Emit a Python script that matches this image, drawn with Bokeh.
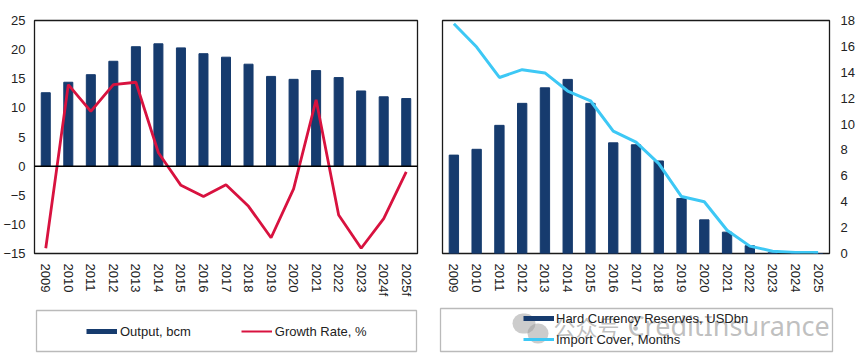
from bokeh.plotting import figure
from bokeh.models import FactorRange, Range1d, Span, Legend, LegendItem, BoxAnnotation, Label, FixedTicker
from bokeh.layouts import row, column
from bokeh.embed import file_html
from bokeh.resources import INLINE

# ---------------- data ----------------
years_left = ["2009", "2010", "2011", "2012", "2013", "2014", "2015", "2016", "2017",
              "2018", "2019", "2020", "2021", "2022", "2023", "2024f", "2025f"]
output_bcm = [12.6, 14.4, 15.7, 18.0, 20.5, 21.0, 20.3, 19.3, 18.7,
              17.5, 15.4, 14.9, 16.4, 15.2, 12.9, 11.9, 11.6]
growth_rate = [-14.1, 14.0, 9.4, 14.0, 14.4, 2.3, -3.3, -5.2, -3.2,
               -6.9, -12.3, -3.9, 11.4, -8.4, -14.1, -9.0, -1.0]

years_right = ["2009", "2010", "2011", "2012", "2013", "2014", "2015", "2016", "2017",
               "2018", "2019", "2020", "2021", "2022", "2023", "2024", "2025"]
reserves = [7.6, 8.05, 9.9, 11.6, 12.8, 13.45, 11.6, 8.55, 8.4,
            7.15, 4.25, 2.6, 1.65, 0.6, 0.05, 0.0, 0.0]
import_cover = [17.75, 15.95, 13.6, 14.2, 13.95, 12.55, 11.8, 9.45, 8.6,
                6.95, 4.4, 4.0, 1.8, 0.57, 0.18, 0.08, 0.08]

left_ticks = [-15, -10, -5, 0, 5, 10, 15, 20, 25]
right_ticks = [0, 2, 4, 6, 8, 10, 12, 14, 16, 18]

NAVY = "#163B6E"
RED = "#D8123F"
CYAN = "#3DC8F5"
FONT = "Liberation Sans"
TXT = "#222222"
EDGE = "#1a1a1a"


def style(p, ticks):
    p.grid.visible = False
    p.outline_line_color = EDGE
    p.outline_line_width = 1.3
    for ax in p.axis:
        ax.axis_line_color = None
        ax.major_tick_line_color = None
        ax.minor_tick_line_color = None
        ax.major_tick_in = 0
        ax.major_tick_out = 0
        ax.minor_tick_out = 0
        ax.major_label_text_font = FONT
        ax.major_label_text_font_size = "13px"
        ax.major_label_text_color = TXT
    p.xaxis.major_label_orientation = "vertical"
    p.xaxis.major_label_standoff = 10
    p.yaxis.ticker = FixedTicker(ticks=ticks)


def legend_fig(width, height):
    f = figure(width=width, height=height, x_range=Range1d(0, 1), y_range=Range1d(0, 1),
               x_axis_location=None, y_axis_location=None, output_backend="svg",
               toolbar_location=None, tools="", min_border=0, frame_align=False)
    f.grid.visible = False
    f.outline_line_color = None
    return f


def screen_box(f, l, r, b, t, **kw):
    f.add_layout(BoxAnnotation(left=l, right=r, top=t, bottom=b,
                               left_units="screen", right_units="screen",
                               top_units="screen", bottom_units="screen", **kw))


# ---------------- left chart ----------------
p1 = figure(x_range=FactorRange(*years_left), y_range=Range1d(-15, 25),
            width=430, height=300, output_backend="svg", toolbar_location=None, tools="",
            frame_align=False,
            min_border_left=33, min_border_right=13, min_border_top=20, min_border_bottom=47)
style(p1, left_ticks)
p1.yaxis.major_label_standoff = 9

p1.vbar(x=years_left, top=output_bcm, width=0.4, color=NAVY)
p1.add_layout(Span(location=0, dimension="width", line_color="black", line_width=1.5))
p1.line(x=years_left, y=growth_rate, line_color=RED, line_width=2.8)

l1 = legend_fig(430, 60)
screen_box(l1, 36, 416, 9, 50, fill_alpha=0, line_color=EDGE, line_width=1.3)
lg1_bar = l1.line(x=[5, 6], y=[5, 5], line_color=NAVY, line_width=5)
lg1_line = l1.line(x=[5, 6], y=[5, 5], line_color=RED, line_width=2)
l1.add_layout(Legend(items=[LegendItem(label="Output, bcm", renderers=[lg1_bar]),
                            LegendItem(label="Growth Rate, %", renderers=[lg1_line])],
                     orientation="horizontal", location=(86, 21),
                     glyph_width=31, glyph_height=16, label_height=16, label_standoff=3,
                     spacing=50, padding=0, margin=0,
                     border_line_color=None, background_fill_alpha=0,
                     label_text_font=FONT, label_text_font_size="13px", label_text_color=TXT),
              "center")

# ---------------- right chart ----------------
p2 = figure(x_range=FactorRange(*years_right), y_range=Range1d(0, 18),
            width=435, height=300, output_backend="svg", toolbar_location=None, tools="",
            y_axis_location="right", frame_align=False,
            min_border_left=12, min_border_right=36, min_border_top=20, min_border_bottom=47)
style(p2, right_ticks)
p2.yaxis.major_label_standoff = 11

p2.vbar(x=years_right, top=reserves, width=0.41, color=NAVY)
p2.line(x=years_right, y=import_cover, line_color=CYAN, line_width=3)

l2 = legend_fig(435, 60)
screen_box(l2, 10, 402, 9, 52, fill_alpha=0, line_color=EDGE, line_width=1.3)
lg2_bar = l2.line(x=[5, 6], y=[5, 5], line_color=NAVY, line_width=5)
lg2_line = l2.line(x=[5, 6], y=[5, 5], line_color=CYAN, line_width=3)
l2.add_layout(Legend(items=[LegendItem(label="Hard Currency Reserves, USDbn", renderers=[lg2_bar]),
                            LegendItem(label="Import Cover, Months", renderers=[lg2_line])],
                     orientation="vertical", location=(93, 13),
                     glyph_width=31, glyph_height=16, label_height=16, label_standoff=2,
                     spacing=5, padding=0, margin=0,
                     border_line_color=None, background_fill_alpha=0,
                     label_text_font=FONT, label_text_font_size="13px", label_text_color=TXT),
              "center")

# watermark overlay
screen_box(l2, 82, 105, 27, 47, fill_color="#9a9a9a", fill_alpha=0.5, line_color=None, border_radius=10)
screen_box(l2, 97, 118, 17, 37, fill_color="#9a9a9a", fill_alpha=0.5, line_color=None, border_radius=10)
l2.add_layout(Label(x=123, y=35, x_units="screen", y_units="screen", text="公众号 ·",
                    text_font="Noto Sans CJK SC", text_font_size="22px",
                    text_color="#8a8a8a", text_alpha=0.55, text_baseline="middle"))
l2.add_layout(Label(x=197, y=35, x_units="screen", y_units="screen", text="CreditInsurance",
                    text_font="Noto Sans", text_font_size="27px",
                    text_color="#8a8a8a", text_alpha=0.55, text_baseline="middle"))

layout = row(column(p1, l1), column(p2, l2))
open("out.html", "w").write(file_html(layout, INLINE))
